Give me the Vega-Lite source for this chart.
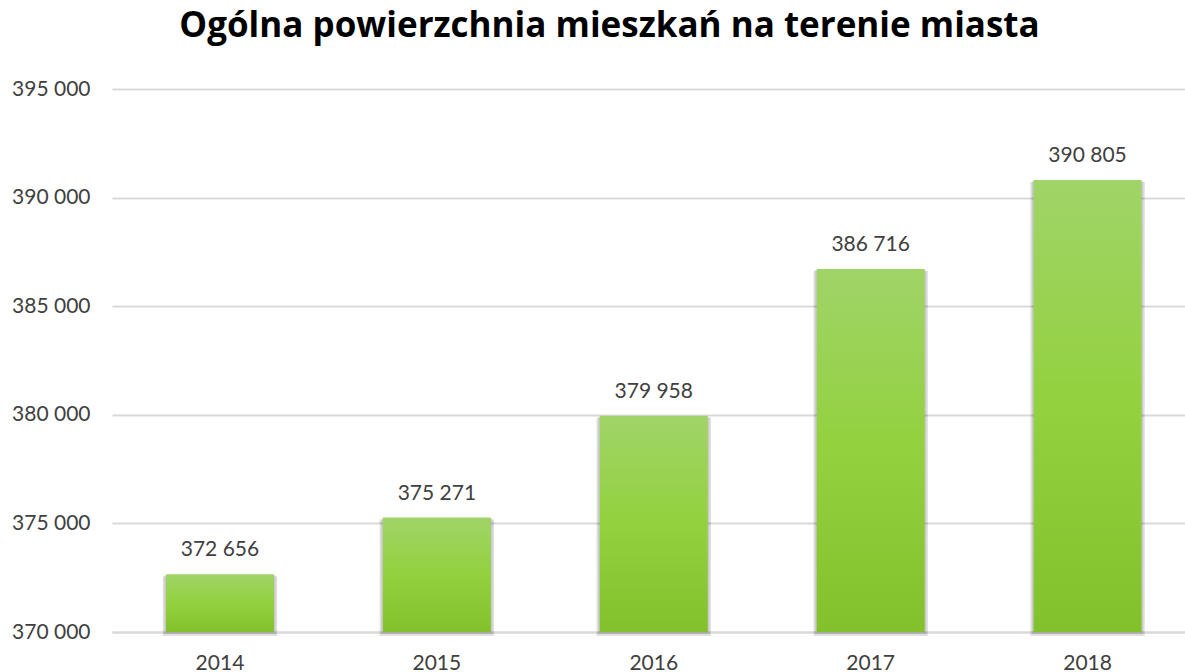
{
  "$schema": "https://vega.github.io/schema/vega-lite/v6.json",
  "autosize": "none",
  "width": 1073,
  "height": 543,
  "padding": {"left": 112, "top": 89, "right": 0, "bottom": 40},
  "background": "white",
  "title": {
    "text": "Ogólna powierzchnia mieszkań na terenie miasta",
    "font": "Open Sans",
    "fontSize": 35,
    "fontWeight": "bold",
    "color": "#000000",
    "anchor": "middle",
    "frame": "group",
    "dx": -39,
    "offset": 6,
    "baseline": "alphabetic"
  },
  "config": {
    "locale": {"number": {"decimal": ",", "thousands": " ", "grouping": [3], "currency": ["", ""]}},
    "view": {"stroke": null},
    "font": "Lato"
  },
  "data": {
    "values": [
      {"rok": "2014", "powierzchnia": 372656},
      {"rok": "2015", "powierzchnia": 375271},
      {"rok": "2016", "powierzchnia": 379958},
      {"rok": "2017", "powierzchnia": 386716},
      {"rok": "2018", "powierzchnia": 390805}
    ]
  },
  "encoding": {
    "x": {
      "field": "rok",
      "type": "nominal",
      "sort": null,
      "scale": {"paddingInner": 0.502, "paddingOuter": 0.2245, "align": 0.554},
      "axis": {
        "title": null,
        "labelAngle": 0,
        "labelFont": "Lato",
        "labelFontSize": 21,
        "labelColor": "#404040",
        "labelBaseline": "alphabetic",
        "labelPadding": 37,
        "ticks": false,
        "domain": true,
        "domainColor": "#d9d9d9",
        "domainWidth": 2,
        "grid": false
      }
    },
    "y": {
      "field": "powierzchnia",
      "type": "quantitative",
      "scale": {"domain": [370000, 395000], "nice": false, "zero": false},
      "axis": {
        "title": null,
        "values": [370000, 375000, 380000, 385000, 390000, 395000],
        "format": ",d",
        "labelFont": "Lato",
        "labelFontSize": 21,
        "labelColor": "#404040",
        "labelPadding": 22,
        "ticks": false,
        "domain": false,
        "grid": true,
        "gridColor": "#d9d9d9",
        "gridWidth": 2
      }
    }
  },
  "layer": [
    {
      "mark": {"type": "bar", "color": "#000000", "opacity": 0.12, "width": {"band": 1.06}, "yOffset": 2, "y2Offset": 4},
      "encoding": {"y2": {"datum": 370000}}
    },
    {
      "mark": {"type": "bar", "color": "#000000", "opacity": 0.1, "width": {"band": 1.03}, "yOffset": 1, "y2Offset": 2},
      "encoding": {"y2": {"datum": 370000}}
    },
    {
      "mark": {
        "type": "bar",
        "color": {
          "gradient": "linear",
          "x1": 0, "y1": 0, "x2": 0, "y2": 1,
          "stops": [
            {"offset": 0, "color": "#a0d468"},
            {"offset": 0.5, "color": "#93d13e"},
            {"offset": 1, "color": "#82c12c"}
          ]
        }
      },
      "encoding": {"y2": {"datum": 370000}}
    },
    {
      "mark": {"type": "text", "baseline": "alphabetic", "dy": -18, "font": "Lato", "fontSize": 21, "color": "#404040"},
      "encoding": {"text": {"field": "powierzchnia", "type": "quantitative", "format": ",d"}}
    }
  ]
}
